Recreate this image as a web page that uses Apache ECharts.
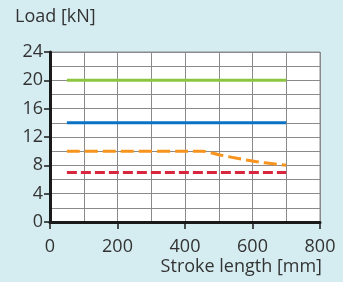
<!DOCTYPE html>
<html>
<head>
<meta charset="utf-8">
<script src="https://cdn.jsdelivr.net/npm/echarts@6/dist/echarts.min.js"></script>
<style>
html,body{margin:0;padding:0;background:#d5edf1;}
#chart{width:343px;height:282px;}
</style>
</head>
<body>
<div id="chart"></div>
<script>
var strokeGreen = [50, 700];
var loadGreen = [20, 20];
var strokeBlue = [50, 700];
var loadBlue = [14, 14];
var strokeOrange = [50, 450, 500, 600, 700];
var loadOrange = [10, 10, 9.5, 8.6, 8];
var strokeRed = [50, 700];
var loadRed = [7, 7];

var pairs = function(xs, ys){
	var arr = [];
	for (var i = 0; i < xs.length; i++) { arr.push([xs[i], ys[i]]); }
	return arr;
};

var txt = "#333";
var gridCol = "#8a8a8a";
var font = "'Open Sans', sans-serif";

var chart = echarts.init(document.getElementById("chart"));
chart.setOption({
	backgroundColor: "#d5edf1",
	animation: false,
	grid: {left: 50, right: 23, top: 52, bottom: 60, show: true, backgroundColor: "#fff", borderColor: gridCol, borderWidth: 1},
	graphic: [
		{type: "text", left: 15, top: 8, style: {text: "Load [kN]", font: "18px " + font, fill: txt}},
		{type: "text", right: 21, top: 258, style: {text: "Stroke length [mm]", font: "18px " + font, fill: txt}}
	],
	xAxis: {
		type: "value", min: 0, max: 800, interval: 200,
		axisLine: {show: true, onZero: false, lineStyle: {color: "#1a1a1a", width: 3}},
		axisTick: {show: true, length: 7, lineStyle: {color: "#1a1a1a", width: 1.5}},
		axisLabel: {color: txt, fontSize: 18, fontFamily: font, margin: 16},
		splitLine: {show: true, lineStyle: {color: gridCol, width: 1}},
		minorTick: {show: false, splitNumber: 2},
		minorSplitLine: {show: true, lineStyle: {color: gridCol, width: 1}}
	},
	yAxis: {
		type: "value", min: 0, max: 24, interval: 4,
		axisLine: {show: true, lineStyle: {color: "#1a1a1a", width: 3}},
		axisTick: {show: true, length: 6, lineStyle: {color: "#1a1a1a", width: 1.5}},
		axisLabel: {color: txt, fontSize: 18, fontFamily: font, margin: 7},
		splitLine: {show: true, lineStyle: {color: gridCol, width: 1}},
		minorTick: {show: false, splitNumber: 2},
		minorSplitLine: {show: true, lineStyle: {color: gridCol, width: 1}}
	},
	series: [
		{type: "line", data: pairs(strokeGreen, loadGreen), showSymbol: false, lineStyle: {color: "#8cc63f", width: 3}},
		{type: "line", data: pairs(strokeBlue, loadBlue), showSymbol: false, lineStyle: {color: "#0a72c4", width: 3}},
		{type: "line", data: pairs(strokeOrange, loadOrange), showSymbol: false, smooth: 0.3, lineStyle: {color: "#f7941d", width: 3, type: [13, 5]}},
		{type: "line", data: pairs(strokeRed, loadRed), showSymbol: false, lineStyle: {color: "#d7263d", width: 3, type: [10, 4]}}
	]
});
</script>
</body>
</html>
